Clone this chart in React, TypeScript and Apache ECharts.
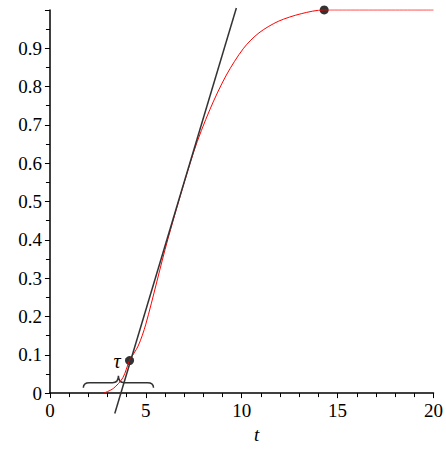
import React, { useEffect, useRef } from 'react'
import * as echarts from 'echarts'

// response curve
const curveT = [2.8, 3.3, 3.8, 4.15, 4.6, 5, 6.14, 7.5, 8.34, 9.2, 10.1, 10.9, 11.9, 13.1, 14.3, 20]
const curveY = [0, 0.012, 0.04, 0.085, 0.123, 0.18, 0.4, 0.63, 0.74, 0.83, 0.9, 0.94, 0.97, 0.99, 1, 1]
// tangent line end points
const tangent = [[3.38, -0.053], [9.72, 1.005]]
// marked points
const dots = [[4.15, 0.085], [14.3, 1]]
// brace: from, to, height
const brace = [[1.74, 5.4, 0.027]]

const FONT = 'Times New Roman'

const App = () => {
  const ref = useRef<HTMLDivElement>(null)

  useEffect(() => {
    if (!ref.current) return
    document.body.style.margin = '0'
    document.body.style.overflow = 'hidden'
    const chart = echarts.init(ref.current, null, { renderer: 'svg' })
    chart.setOption({
      animation: false,
      textStyle: { fontFamily: FONT },
      grid: { left: '11.2%', right: '1.1%', top: '2.2%', bottom: '8.9%' },
      xAxis: {
        type: 'value', min: 0, max: 20, interval: 5,
        name: 't', nameLocation: 'middle', nameGap: 21,
        nameTextStyle: { fontFamily: FONT, fontStyle: 'italic', fontSize: 19, color: '#000', padding: [0, 0, 0, 30] },
        axisLine: { lineStyle: { color: '#000', width: 1.5 } },
        axisTick: { lineStyle: { color: '#000' }, length: 5 },
        minorTick: { show: true, splitNumber: 5, length: 4, lineStyle: { color: '#000' } },
        axisLabel: { fontFamily: FONT, fontSize: 19, color: '#000', margin: 8 },
        splitLine: { show: false },
      },
      yAxis: {
        type: 'value', min: 0, max: 1, interval: 0.1,
        axisLine: { show: true, lineStyle: { color: '#000', width: 1.5 } },
        axisTick: { show: true, lineStyle: { color: '#000' }, length: 5 },
        minorTick: { show: true, splitNumber: 2, length: 4, lineStyle: { color: '#000' } },
        axisLabel: {
          fontFamily: FONT, fontSize: 19, color: '#000', margin: 8,
          formatter: (v: number) => (v >= 1 ? '' : v === 0 ? '0' : v.toFixed(1)),
        },
        splitLine: { show: false },
      },
      series: [
        {
          type: 'line', data: curveT.map((t, i) => [t, curveY[i]]), smooth: 0.3,
          showSymbol: false, lineStyle: { color: '#ff0000', width: 1 },
        },
        {
          type: 'line', data: tangent, clip: false, showSymbol: false,
          lineStyle: { color: '#333', width: 1.5 },
        },
        {
          type: 'scatter', data: dots, symbolSize: 9, clip: false,
          itemStyle: { color: '#000' },
        },
        {
          type: 'custom', clip: false, data: brace,
          renderItem: (_p: any, api: any) => {
            const a = api.coord([api.value(0), api.value(2)])
            const b = api.coord([api.value(1), api.value(2)])
            const m = (a[0] + b[0]) / 2
            const y = a[1]
            const h = 5
            const d = `M${a[0]},${y + h} Q${a[0]},${y} ${a[0] + 6},${y} L${m - 6},${y} Q${m},${y} ${m},${y - h - 2} Q${m},${y} ${m + 6},${y} L${b[0] - 6},${y} Q${b[0]},${y} ${b[0]},${y + h}`
            const lab = api.coord([3.5, 0.085])
            return {
              type: 'group',
              children: [
                { type: 'path', shape: { pathData: d }, style: { fill: 'none', stroke: '#333', lineWidth: 1.5 } },
                { type: 'text', x: lab[0], y: lab[1], style: { text: 'τ', font: `italic 20px ${FONT}`, fill: '#000', align: 'center', verticalAlign: 'middle' } },
              ],
            }
          },
        },
      ],
    })
    return () => chart.dispose()
  }, [])

  return <div ref={ref} style={{ width: '100vw', height: '100vh' }} />
}

export default App
